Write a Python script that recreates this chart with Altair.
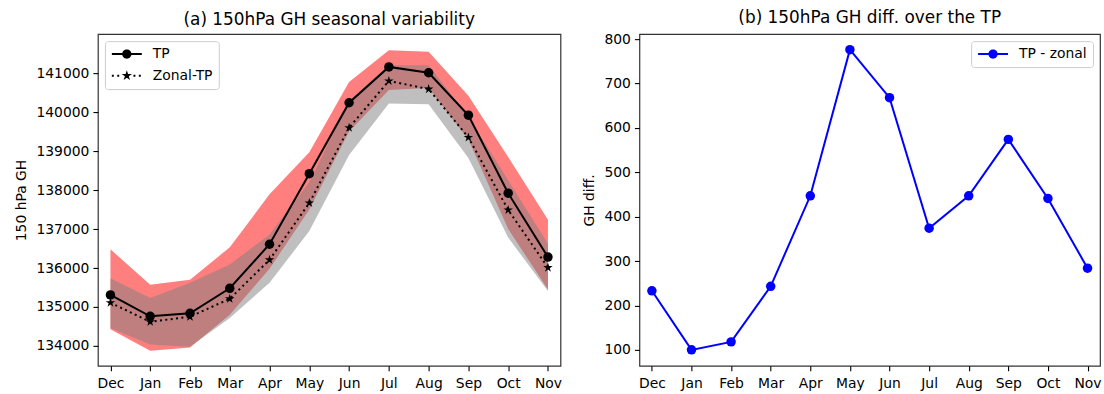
import altair as alt
import pandas as pd
import numpy as np

# ---------------- data ----------------
months = ["Dec", "Jan", "Feb", "Mar", "Apr", "May", "Jun", "Jul", "Aug", "Sep", "Oct", "Nov"]
tp = [135310, 134760, 134840, 135480, 136610, 138420, 140240, 141160, 141010, 139920, 137920, 136280]
zonal = [135110, 134620, 134750, 135210, 136210, 137670, 139600, 140800, 140590, 139350, 137490, 136010]
tp_upper = [136480, 135570, 135700, 136530, 137890, 138970, 140770, 141590, 141550, 140420, 138850, 137240]
tp_lower = [134430, 133880, 133960, 134800, 135980, 137500, 139500, 140570, 140620, 139300, 137000, 135450]
zonal_upper = [135740, 135230, 135620, 136090, 136860, 138200, 140280, 141200, 141200, 139880, 138250, 136620]
zonal_lower = [134460, 134040, 133980, 134720, 135620, 136950, 138900, 140220, 140200, 138820, 136780, 135410]
diff = [233, 100, 118, 243, 447, 776, 668, 374, 447, 574, 441, 284]

series_left = ["TP", "Zonal-TP"]
series_right = ["TP - zonal"]

df = pd.DataFrame({
    "month": months, "tp": tp, "zonal": zonal,
    "tp_hi": tp_upper, "tp_lo": tp_lower,
    "zo_hi": zonal_upper, "zo_lo": zonal_lower, "diff": diff,
})
leg_left = pd.DataFrame({"month": months * 2, "value": tp + zonal,
                         "series": [series_left[0]] * 12 + [series_left[1]] * 12})
leg_right = pd.DataFrame({"month": months, "value": diff, "series": series_right * 12})

FONT = "DejaVu Sans"
FS = 13.9


# ---------------- symbol paths (all filled shapes) ----------------
def star_path(cx=0.0, r=1.0):
    pts = []
    for k in range(10):
        ang = np.deg2rad(-90 + 36 * k)
        rr = r if k % 2 == 0 else r * 0.382
        pts.append((cx + rr * np.cos(ang), rr * np.sin(ang)))
    return "M" + "L".join(f"{x:.3f},{y:.3f}" for x, y in pts) + "Z"


def circle_path(cx, r):
    return (f"M{cx - r:.3f},0A{r:.3f},{r:.3f} 0 1,1 {cx + r:.3f},0"
            f"A{r:.3f},{r:.3f} 0 1,1 {cx - r:.3f},0Z")


def rect_path(x0, x1, h):
    return f"M{x0:.3f},{-h:.3f}L{x1:.3f},{-h:.3f}L{x1:.3f},{h:.3f}L{x0:.3f},{h:.3f}Z"


X0, X1, CX, HW = -1.0, 4.0, 1.5, 0.17
solid_leg = rect_path(X0, X1, HW) + circle_path(CX, 0.78)
dots = []
s = X0
while s < X1:
    e = min(s + 0.33, X1)
    if e < CX - 0.8 or s > CX + 0.8:
        dots.append(rect_path(s, e, HW))
    s += 0.9
dotted_leg = "".join(dots) + star_path(CX, 0.9)

STAR = star_path(0, 1.0)

# ---------------- encodings ----------------
x_enc = alt.X("month:N", sort=months,
              scale=alt.Scale(type="point", padding=0.315),
              axis=alt.Axis(title=None, labelAngle=0, labelPadding=6))

yscale_l = alt.Scale(domain=[133490, 142000], nice=False, zero=False)
yaxis_l = alt.Axis(title="150 hPa GH", values=list(range(134000, 141001, 1000)), format="d")


def yl(field):
    return alt.Y(field, type="quantitative", scale=yscale_l, axis=yaxis_l)


base = alt.Chart(df)

red_band = base.mark_area(color="red", opacity=0.5).encode(x=x_enc, y=yl("tp_lo"), y2="tp_hi")
gray_band = base.mark_area(color="gray", opacity=0.5).encode(x=x_enc, y=yl("zo_lo"), y2="zo_hi")
tp_line = base.mark_line(color="black", strokeWidth=2).encode(x=x_enc, y=yl("tp"))
tp_pts = base.mark_point(filled=True, color="black", size=90, shape="circle", opacity=1).encode(x=x_enc, y=yl("tp"))
zo_line = base.mark_line(color="black", strokeWidth=2, strokeDash=[2, 3.4]).encode(x=x_enc, y=yl("zonal"))
zo_pts = base.mark_point(filled=True, color="black", size=100, shape=STAR, opacity=1).encode(x=x_enc, y=yl("zonal"))

legend_common = dict(
    title=None, offset=7, symbolSize=144, symbolStrokeWidth=0, symbolOpacity=1,
    labelFont=FONT, labelFontSize=FS, labelColor="black",
    fillColor="rgba(255,255,255,0.8)", strokeColor="#cccccc", cornerRadius=3,
    padding=6, rowPadding=6.6, labelOffset=28,
)

leg_l_layer = alt.Chart(leg_left).transform_filter("false").mark_point(
    filled=True, color="black", opacity=1
).encode(
    x=x_enc,
    y=yl("value"),
    shape=alt.Shape("series:N", scale=alt.Scale(domain=series_left, range=[solid_leg, dotted_leg]),
                    legend=alt.Legend(orient="top-left", symbolFillColor="black", **legend_common)),
)

left = alt.layer(red_band, gray_band, tp_line, tp_pts, zo_line, zo_pts, leg_l_layer).properties(
    width=463, height=332,
    title=alt.TitleParams("(a) 150hPa GH seasonal variability", font=FONT, fontSize=16.9,
                          fontWeight="normal", color="black", offset=5, anchor="middle"),
)

# right panel
yscale_r = alt.Scale(domain=[64, 811], nice=False, zero=False)
yaxis_r = alt.Axis(title="GH diff.", values=list(range(100, 801, 100)), format="d")


def yr(field):
    return alt.Y(field, type="quantitative", scale=yscale_r, axis=yaxis_r)


d_line = base.mark_line(color="blue", strokeWidth=2).encode(x=x_enc, y=yr("diff"))
d_pts = base.mark_point(filled=True, color="blue", size=90, shape="circle", opacity=1).encode(x=x_enc, y=yr("diff"))
leg_r_layer = alt.Chart(leg_right).transform_filter("false").mark_point(
    filled=True, color="blue", opacity=1
).encode(
    x=x_enc,
    y=yr("value"),
    shape=alt.Shape("series:N", scale=alt.Scale(domain=series_right, range=[solid_leg]),
                    legend=alt.Legend(orient="top-right", symbolFillColor="blue", **legend_common)),
)

right = alt.layer(d_line, d_pts, leg_r_layer).properties(
    width=461, height=332,
    title=alt.TitleParams("(b) 150hPa GH diff. over the TP", font=FONT, fontSize=16.9,
                          fontWeight="normal", color="black", offset=5, anchor="middle"),
)

chart = alt.hconcat(left, right, spacing=19).resolve_scale(shape="independent").properties(
    padding={"left": 14, "top": 8, "right": 2, "bottom": 0},
    background="white",
).configure_axis(
    labelFont=FONT, labelFontSize=FS, labelColor="black",
    titleFont=FONT, titleFontSize=FS, titleFontWeight="normal", titleColor="black",
    tickColor="black", tickSize=5, tickWidth=1.1, labelPadding=4, titlePadding=7,
    domain=False, grid=False,
).configure_view(
    stroke="#333333", strokeWidth=1.2,
)

chart.save("out.html", embed_options={"renderer": "svg", "actions": False})
